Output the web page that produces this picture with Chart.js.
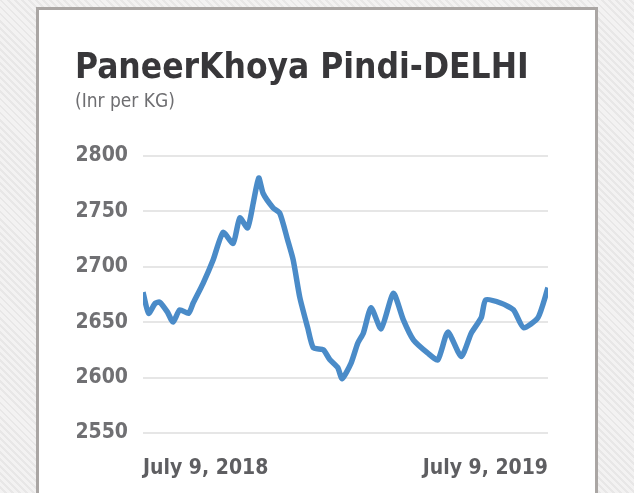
<!DOCTYPE html>
<html>
<head>
<meta charset="utf-8">
<script src="https://cdn.jsdelivr.net/npm/chart.js@4.4.1/dist/chart.umd.min.js"></script>
<style>
  html, body { margin: 0; padding: 0; }
  body {
    width: 634px; height: 493px; overflow: hidden; position: relative;
    background: repeating-linear-gradient(45deg, #f3f2f2 0px, #f3f2f2 3px, #e8e7e7 3px, #e8e7e7 5px);
  }
  #card {
    position: absolute; left: 36px; top: 7px; width: 556px; height: 500px;
    background: #fff; border: 3px solid #aaa6a4;
  }
  #wrap { position: absolute; left: 0; top: 0; width: 634px; height: 493px; }
</style>
</head>
<body>
<div id="card"></div>
<div id="wrap"><canvas id="priceChart"></canvas></div>
<script>
// Days since July 9, 2018 and price (Rs per KG)
const dayOffsets = [0, 5, 11, 15, 22, 27, 33, 41, 45, 54, 63, 72, 81, 87, 94, 99, 104, 108, 117, 123,
  130, 135, 141, 148, 153, 162, 168, 175, 179, 187, 193, 198, 205, 214, 225, 234, 243, 256, 265, 274,
  286, 295, 304, 308, 322, 333, 342, 355, 364];
const prices = [2677, 2658, 2667, 2668, 2659, 2650, 2661, 2658, 2667, 2685, 2706, 2731, 2721, 2744, 2735, 2757, 2780, 2766, 2753, 2748,
  2724, 2706, 2672, 2645, 2627, 2625, 2616, 2609, 2599, 2613, 2631, 2640, 2663, 2644, 2676, 2652, 2634, 2622, 2616, 2641,
  2619, 2640, 2654, 2670, 2667, 2661, 2645, 2654, 2681];
const yTicks = [2550, 2600, 2650, 2700, 2750, 2800];
const xTickDays = [0, 364];
const xTickLabels = ['July 9, 2018', 'July 9, 2019'];

const ctx = document.getElementById('priceChart');

new Chart(ctx, {
  type: 'line',
  data: {
    datasets: [{
      data: dayOffsets.map((d, i) => ({ x: d, y: prices[i] })),
      borderColor: '#4a8bc8',
      borderWidth: 5.5,
      pointRadius: 0,
      tension: 0.2,
      fill: false
    }]
  },
  options: {
    responsive: true,
    maintainAspectRatio: false,
    animation: false,
    layout: {
      padding: { left: 75, right: 86, top: 48, bottom: 0 }
    },
    scales: {
      x: {
        type: 'linear',
        min: 0,
        max: 364,
        afterBuildTicks: (scale) => {
          scale.ticks = xTickDays.map(v => ({ value: v }));
        },
        afterFit: (scale) => { scale.height = 60; },
        grid: { display: false },
        border: { display: false },
        ticks: {
          align: 'inner',
          padding: 15,
          maxRotation: 0,
          color: '#5e5e61',
          font: { family: 'DejaVu Sans Condensed', size: 21, weight: 'bold' },
          callback: (value) => xTickLabels[xTickDays.indexOf(value)]
        }
      },
      y: {
        min: 2550,
        max: 2800,
        afterBuildTicks: (scale) => {
          scale.ticks = yTicks.map(v => ({ value: v }));
        },
        afterFit: (scale) => { scale.width = 68; },
        grid: { color: '#e6e6e6', lineWidth: 2, drawTicks: false },
        border: { display: false },
        ticks: {
          padding: 15,
          color: '#707073',
          font: { family: 'DejaVu Sans Condensed', size: 21, weight: 'bold' },
          callback: (value) => String(value)
        }
      }
    },
    plugins: {
      legend: { display: false },
      tooltip: { enabled: false },
      title: {
        display: true,
        text: 'PaneerKhoya Pindi-DELHI',
        align: 'start',
        color: '#38373a',
        font: { family: 'DejaVu Sans Condensed', size: 35, weight: 'bold' },
        padding: { top: 0, bottom: 1 }
      },
      subtitle: {
        display: true,
        text: '(Inr per KG)',
        align: 'start',
        color: '#6e6e71',
        font: { family: 'DejaVu Sans Condensed', size: 19 },
        padding: { top: 0, bottom: 42 }
      }
    }
  }
});
</script>
</body>
</html>
